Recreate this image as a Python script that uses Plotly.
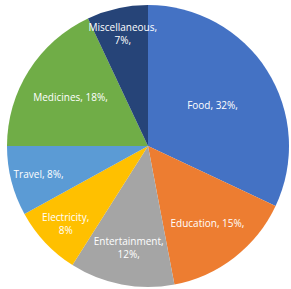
import plotly.graph_objects as go

categories = ["Food", "Education", "Entertainment", "Electricity", "Travel", "Medicines", "Miscellaneous"]
values = [32, 15, 12, 8, 8, 18, 7]
label_text = ["Food, 32%,", "Education, 15%,", "Entertainment,<br>12%,", "Electricity,<br>8%",
              "Travel, 8%,", "Medicines, 18%,", "Miscellaneous,<br>7%,"]
colors = ["#4472C4", "#ED7D31", "#A5A5A5", "#FFC000", "#5B9BD5", "#70AD47", "#264478"]

fig = go.Figure(go.Pie(
    labels=categories,
    values=values,
    text=label_text,
    textinfo="text",
    textposition="inside",
    insidetextorientation="horizontal",
    sort=False,
    direction="clockwise",
    rotation=0,
    marker=dict(colors=colors, line=dict(width=0)),
    textfont=dict(family="Open Sans", size=10, color="white"),
    domain=dict(x=[7/291, 289/291], y=[2/289, 284/289]),
    showlegend=False,
))
fig.update_layout(
    width=291, height=289,
    margin=dict(l=0, r=0, t=0, b=0),
    paper_bgcolor="white",
    plot_bgcolor="white",
    uniformtext=dict(minsize=10, mode="show"),
)
fig.write_html("out.html", config={"displayModeBar": False},
               post_script="document.body.style.margin='0';")
